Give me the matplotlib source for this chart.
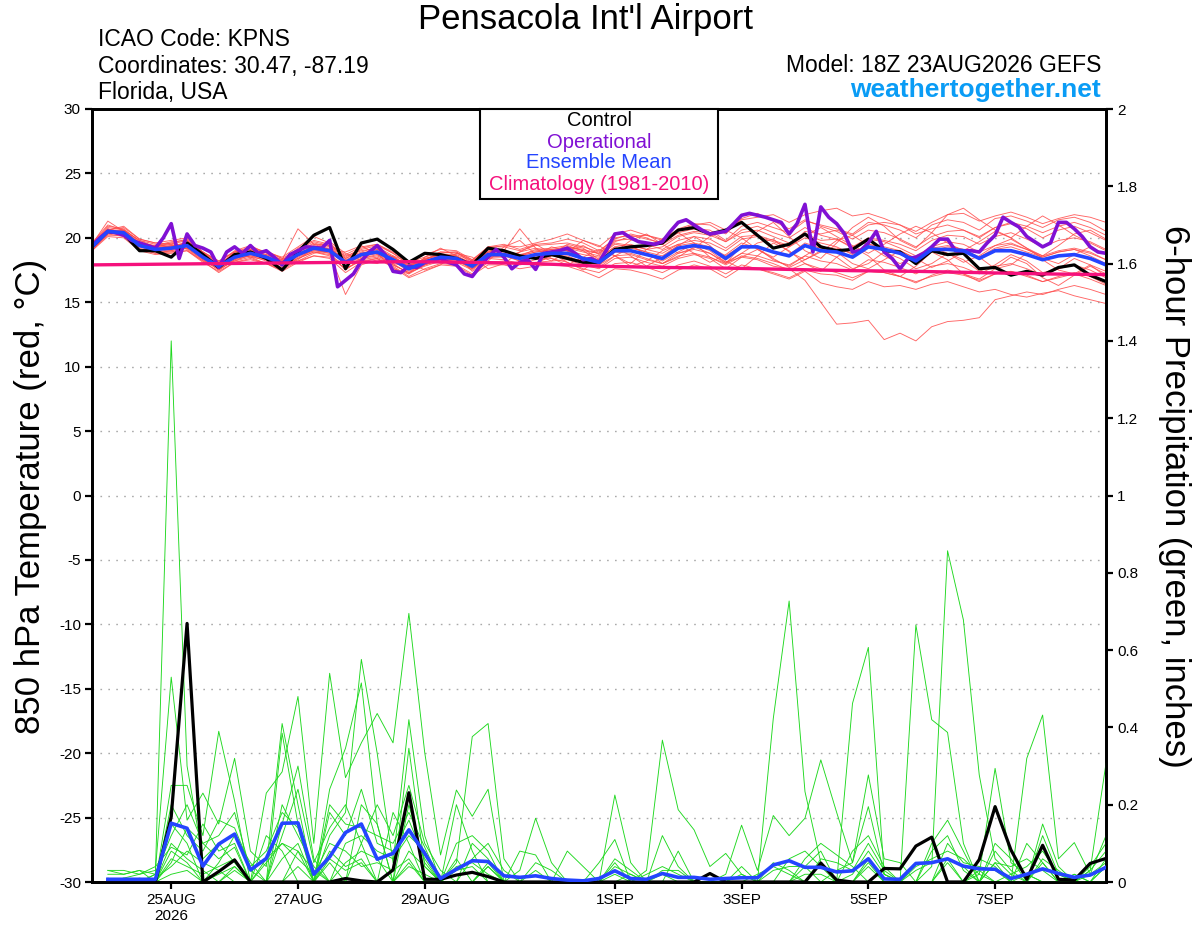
import numpy as np
import matplotlib
matplotlib.use("Agg")
import matplotlib.pyplot as plt

plt.rcParams['font.family'] = ['Liberation Sans', 'DejaVu Sans']
plt.rcParams['axes.unicode_minus'] = False

# ---------------- data ----------------
# time axis: hours since 23AUG2026 18Z
temp_hours = list(range(0, 385, 6))          # 65 six-hourly steps
op_hours = list(range(0, 385, 3))            # 129 three-hourly steps
precip_hours = list(range(6, 385, 6))        # 64 six-hourly accumulations
clim_hours = list(range(0, 385, 24))

tick_hours = [30, 78, 126, 198, 246, 294, 342]
tick_labels = ["25AUG\n2026", "27AUG", "29AUG", "1SEP", "3SEP", "5SEP", "7SEP"]

control_temp = [19.3, 20.5, 20.3, 19.0, 19.0, 18.5, 19.6, 18.7, 17.7, 18.7, 18.9, 18.4, 17.5,
                18.9, 20.2, 20.8, 17.6, 19.6, 19.9, 19.1, 18.1, 18.8, 18.7, 18.4, 17.9, 19.2,
                19.0, 18.6, 18.4, 18.7, 18.4, 18.1, 18.1, 19.1, 19.3, 19.4, 19.6, 20.6, 20.8,
                20.3, 20.6, 21.2, 20.2, 19.2, 19.5, 20.3, 19.3, 19.0, 19.1, 19.9, 19.0, 18.9,
                18.0, 19.0, 18.7, 18.8, 17.6, 17.7, 17.1, 17.4, 17.1, 17.7, 17.9, 17.1, 16.6]

mean_temp = [19.3, 20.5, 20.4, 19.4, 19.1, 19.2, 19.4, 18.5, 17.8, 18.5, 18.8, 18.5, 18.0,
             18.7, 19.2, 19.0, 18.1, 18.7, 18.9, 18.3, 17.6, 18.1, 18.5, 18.4, 17.8, 18.7,
             18.7, 18.4, 18.7, 18.8, 18.8, 18.4, 18.1, 19.0, 19.0, 18.7, 18.4, 19.2, 19.4,
             19.2, 18.4, 19.3, 19.3, 18.9, 18.6, 19.4, 19.0, 18.9, 18.5, 19.3, 19.1, 18.8,
             18.2, 19.1, 19.1, 19.0, 18.4, 19.0, 19.0, 18.7, 18.3, 18.6, 18.7, 18.4, 17.9]

operational_temp = [19.4, 20.0, 20.5, 20.4, 20.2, 19.8, 19.6, 19.4, 19.2, 20.0, 21.1, 18.4, 20.3,
                    19.4, 19.2, 18.9, 17.7, 18.9, 19.3, 18.8, 19.4, 18.8, 19.0, 18.5, 17.9, 18.7,
                    19.0, 19.3, 19.25, 19.2, 19.8, 16.2, 16.7, 17.2, 18.2, 18.9, 19.4, 18.7, 17.4,
                    17.3, 17.8, 17.7, 18.1, 18.3, 18.4, 18.1, 17.9, 17.2, 17.0, 17.8, 18.5, 19.1,
                    18.5, 17.6, 18.1, 18.3, 17.55, 18.8, 18.9, 19.0, 19.2, 18.8, 18.3, 18.4, 18.1,
                    19.1, 20.3, 20.4, 20.0, 19.7, 19.6, 19.5, 19.7, 20.5, 21.2, 21.4, 21.0, 20.6,
                    20.3, 20.4, 20.5, 21.1, 21.75, 21.9, 21.75, 21.6, 21.4, 21.2, 20.3, 21.1, 22.6,
                    18.9, 22.4, 21.6, 21.1, 20.3, 18.9, 19.0, 19.6, 20.5, 18.9, 18.4, 17.6, 18.4,
                    18.5, 18.8, 19.3, 19.9, 19.9, 19.0, 19.0, 19.0, 18.9, 19.6, 20.2, 21.6, 21.2,
                    20.85, 20.1, 19.7, 19.3, 19.6, 21.2, 21.2, 20.7, 20.1, 19.3, 18.9, 18.8]

climatology_temp = [17.9, 17.95, 18.0, 18.05, 18.1, 18.15, 18.1, 18.0, 17.8, 17.7, 17.65,
                    17.55, 17.45, 17.4, 17.3, 17.2, 17.15]

member_temps = [
    [19.5, 20.9, 20.7, 19.7, 19.3, 19.6, 19.9, 18.9, 17.9, 18.9, 19.3, 18.9, 18.2,
     19.2, 19.8, 19.5, 18.4, 19.1, 19.4, 18.8, 17.9, 18.3, 18.9, 18.9, 18.2, 19.3,
     19.3, 19.0, 19.4, 19.5, 19.6, 19.3, 18.9, 20.0, 20.2, 19.9, 19.6, 20.4, 20.7,
     20.6, 19.8, 20.9, 21.2, 20.8, 20.4, 21.3, 21.0, 20.7, 20.3, 21.2, 21.0, 20.6,
     20.0, 21.0, 21.4, 21.2, 20.6, 21.5, 21.7, 21.3, 20.8, 21.4, 21.6, 21.2, 20.5],
    [19.1, 20.2, 20.2, 19.2, 18.8, 18.9, 19.0, 18.1, 17.4, 18.1, 18.4, 18.0, 17.4,
     18.1, 18.6, 18.4, 17.3, 18.1, 18.4, 17.8, 17.0, 17.6, 18.0, 17.9, 17.2, 18.1,
     18.2, 17.9, 18.1, 18.2, 18.3, 17.9, 17.6, 18.4, 18.5, 18.1, 17.8, 18.4, 18.7,
     18.4, 17.6, 18.5, 18.3, 17.8, 17.6, 16.7, 15.0, 13.3, 13.4, 13.6, 12.1, 12.6,
     12.0, 13.1, 13.5, 13.6, 13.8, 15.2, 15.5, 15.8, 15.6, 16.0, 16.3, 16.0, 15.6],
    [19.2, 20.4, 20.3, 19.5, 19.0, 18.9, 19.2, 18.3, 17.6, 18.2, 18.5, 18.3, 17.9,
     18.4, 18.9, 18.6, 17.6, 18.3, 18.5, 17.9, 17.3, 17.8, 18.2, 18.1, 17.5, 18.4,
     18.3, 18.0, 18.3, 18.4, 18.1, 17.6, 17.3, 18.0, 18.1, 17.7, 17.3, 17.9, 18.2,
     17.8, 17.2, 17.9, 17.6, 17.2, 16.8, 17.4, 16.5, 16.2, 16.0, 16.6, 16.2, 16.3,
     16.0, 16.4, 16.6, 16.2, 15.8, 16.0, 15.6, 15.4, 15.7, 15.9, 15.5, 15.2, 14.9],
    [19.6, 21.0, 20.6, 19.8, 19.5, 19.3, 19.7, 18.7, 17.9, 18.8, 19.1, 18.6, 18.1,
     18.9, 19.6, 19.3, 18.6, 19.0, 19.2, 18.5, 17.8, 18.4, 18.7, 18.7, 18.2, 19.0,
     19.1, 18.4, 18.0, 18.6, 19.3, 19.0, 18.2, 18.9, 19.4, 18.7, 18.2, 18.9, 19.5,
     19.0, 18.1, 18.8, 19.6, 19.9, 18.9, 18.3, 18.9, 19.8, 20.2, 19.4, 18.6, 18.0,
     18.5, 19.3, 18.8, 18.1, 18.6, 19.4, 19.9, 19.2, 18.4, 18.0, 18.7, 19.3, 18.7],
    [19.4, 20.6, 20.8, 19.9, 19.6, 19.8, 20.0, 18.9, 18.2, 18.9, 19.2, 18.9, 18.5,
     19.3, 20.1, 19.6, 18.5, 19.2, 19.5, 18.9, 18.2, 18.7, 19.1, 19.0, 18.3, 19.2,
     19.4, 19.3, 19.6, 19.9, 20.3, 19.8, 19.3, 20.3, 20.6, 20.2, 19.8, 20.7, 21.1,
     21.0, 20.3, 21.5, 21.9, 21.3, 20.7, 21.4, 20.9, 20.5, 19.9, 20.6, 20.4, 19.9,
     19.3, 20.1, 20.5, 20.6, 20.0, 20.8, 21.1, 20.7, 20.0, 20.6, 20.9, 20.4, 19.8],
    [19.0, 20.3, 20.5, 19.6, 19.2, 19.4, 19.3, 18.4, 17.7, 18.4, 18.6, 18.4, 17.8,
     18.5, 19.0, 18.8, 17.5, 18.4, 18.6, 18.0, 17.2, 17.9, 18.3, 18.3, 17.6, 18.6,
     18.6, 18.2, 18.5, 18.6, 18.6, 18.1, 17.9, 18.9, 18.8, 18.4, 18.0, 18.8, 19.1,
     18.8, 18.0, 18.8, 18.6, 18.2, 17.9, 18.6, 18.2, 18.0, 17.5, 18.3, 18.1, 17.7,
     17.2, 17.8, 18.0, 17.7, 17.2, 17.8, 18.0, 17.6, 17.1, 17.6, 17.9, 17.5, 16.9],
    [19.5, 21.3, 20.5, 19.6, 19.4, 19.7, 19.8, 18.8, 18.1, 19.0, 19.4, 18.8, 18.3,
     20.7, 19.5, 19.1, 18.4, 18.9, 19.3, 18.6, 17.7, 18.3, 18.8, 18.9, 18.0, 18.8,
     19.0, 20.7, 19.2, 18.9, 19.0, 19.4, 18.7, 19.6, 19.4, 19.1, 19.3, 20.1, 20.4,
     20.2, 19.7, 20.4, 20.6, 20.1, 19.6, 20.3, 19.8, 19.9, 19.3, 20.0, 19.8, 19.5,
     19.0, 19.8, 20.2, 20.1, 19.5, 20.1, 20.4, 19.9, 19.3, 19.8, 20.0, 19.7, 19.1],
    [19.3, 20.5, 20.3, 19.3, 18.9, 19.1, 19.5, 18.6, 17.8, 18.6, 18.7, 18.3, 17.9,
     18.6, 19.1, 18.8, 15.6, 17.9, 18.3, 17.9, 17.3, 17.9, 18.3, 18.2, 17.6, 18.5,
     18.5, 18.9, 19.2, 18.4, 17.9, 18.5, 19.1, 18.6, 17.8, 18.2, 19.0, 19.5, 18.8,
     18.1, 18.7, 19.6, 19.2, 18.3, 17.8, 18.6, 19.4, 18.9, 18.0, 17.6, 18.3, 19.0,
     18.4, 17.7, 18.2, 18.9, 18.5, 17.6, 17.9, 18.8, 18.3, 17.5, 17.2, 17.9, 17.4],
    [19.2, 20.7, 20.2, 19.4, 19.0, 19.2, 19.3, 18.5, 17.6, 18.4, 18.8, 18.6, 18.1,
     18.8, 19.3, 19.2, 18.3, 18.8, 19.0, 18.4, 17.6, 18.1, 18.5, 18.5, 17.9, 18.8,
     18.8, 18.6, 18.9, 19.0, 19.2, 18.9, 18.6, 19.5, 19.3, 18.9, 18.6, 19.4, 19.6,
     19.3, 18.6, 19.4, 19.2, 18.9, 18.7, 19.6, 19.2, 19.2, 18.8, 19.5, 19.3, 19.0,
     18.4, 19.2, 19.4, 19.1, 18.5, 19.1, 19.3, 18.9, 18.5, 18.9, 19.1, 18.8, 18.3],
    [19.4, 20.8, 20.6, 19.5, 19.1, 19.3, 19.6, 18.7, 18.0, 18.7, 19.0, 18.7, 18.2,
     18.9, 19.4, 19.1, 18.2, 18.8, 19.1, 18.5, 17.9, 18.2, 18.6, 18.6, 18.0, 18.9,
     18.9, 18.6, 19.1, 19.2, 19.4, 19.0, 18.8, 19.8, 19.9, 19.5, 19.1, 19.8, 20.1,
     19.9, 19.2, 20.1, 20.2, 19.8, 19.4, 20.5, 20.3, 20.6, 20.2, 21.0, 21.2, 21.0,
     20.5, 21.2, 21.8, 21.9, 21.3, 21.7, 22.0, 21.6, 21.1, 21.5, 21.8, 21.6, 21.2],
    [19.1, 20.3, 20.1, 19.1, 18.8, 19.0, 19.2, 18.3, 17.5, 18.3, 18.6, 18.2, 17.7,
     18.4, 18.9, 18.7, 17.8, 18.4, 18.7, 18.2, 17.4, 17.9, 18.4, 18.3, 17.6, 18.5,
     18.6, 18.4, 18.7, 18.7, 18.5, 18.0, 17.7, 18.6, 18.7, 18.3, 18.0, 18.6, 18.8,
     18.5, 17.9, 18.6, 18.4, 18.0, 17.5, 18.0, 17.6, 17.3, 16.9, 17.4, 17.3, 17.0,
     16.6, 17.0, 17.3, 17.1, 16.7, 17.2, 17.4, 17.0, 16.6, 16.9, 17.2, 16.8, 16.3],
    [19.6, 20.6, 20.9, 19.9, 19.6, 19.5, 19.8, 18.9, 18.2, 18.9, 19.1, 18.9, 18.4,
     19.1, 19.7, 19.4, 18.7, 19.3, 19.5, 18.8, 18.1, 18.5, 18.9, 18.8, 18.3, 19.3,
     19.5, 19.1, 19.5, 19.6, 19.9, 19.6, 19.0, 19.9, 20.3, 20.0, 19.5, 20.2, 20.5,
     20.4, 19.7, 20.6, 20.9, 20.4, 20.0, 20.8, 20.2, 19.9, 19.2, 19.9, 19.7, 19.2,
     18.6, 19.3, 19.7, 19.5, 18.9, 19.4, 19.6, 19.1, 18.5, 18.9, 19.1, 18.6, 18.0],
    [19.3, 20.4, 20.4, 19.5, 19.2, 19.1, 19.4, 18.4, 17.7, 18.5, 18.8, 18.4, 17.9,
     18.6, 19.0, 18.9, 18.0, 18.6, 18.8, 18.2, 17.5, 18.0, 18.4, 18.3, 17.7, 18.6,
     18.7, 18.2, 18.6, 19.3, 19.0, 18.3, 17.9, 18.6, 19.2, 18.9, 18.0, 18.5, 19.3,
     18.8, 18.1, 18.5, 19.1, 18.4, 17.7, 18.3, 19.0, 18.5, 17.6, 18.0, 18.9, 18.4,
     17.6, 18.0, 18.8, 18.3, 17.4, 17.9, 18.7, 18.2, 17.3, 17.6, 18.4, 17.9, 17.0],
    [19.4, 20.5, 20.6, 19.6, 19.2, 19.4, 19.5, 18.6, 17.9, 18.6, 18.9, 18.5, 18.0,
     18.7, 19.2, 19.0, 18.1, 18.7, 18.9, 18.3, 17.6, 18.1, 18.6, 18.4, 17.8, 18.7,
     18.8, 18.6, 18.9, 19.1, 19.3, 19.1, 18.8, 19.7, 20.1, 20.2, 19.9, 20.6, 21.0,
     21.2, 20.6, 21.4, 21.6, 21.8, 21.2, 21.8, 22.1, 22.3, 21.7, 21.9, 21.5, 21.0,
     20.3, 20.7, 21.0, 20.6, 20.1, 20.8, 21.2, 20.9, 20.4, 20.9, 21.2, 20.8, 20.2],
    [19.0, 20.1, 20.0, 19.0, 18.7, 18.8, 19.0, 18.2, 17.3, 18.1, 18.3, 18.0, 17.5,
     18.2, 18.6, 18.5, 17.6, 18.2, 18.4, 17.7, 16.9, 17.4, 17.9, 17.8, 17.1, 17.9,
     17.9, 17.6, 17.8, 17.9, 17.8, 17.4, 16.9, 17.6, 17.5, 17.2, 16.8, 17.5, 17.9,
     17.6, 16.9, 17.7, 17.6, 17.3, 16.9, 17.5, 17.2, 17.1, 16.7, 17.4, 17.3, 17.0,
     16.5, 17.1, 17.5, 17.2, 16.6, 17.2, 17.4, 17.1, 16.6, 17.0, 17.3, 17.0, 16.4],
    [19.5, 20.7, 20.4, 19.6, 19.3, 19.3, 19.6, 18.6, 17.8, 18.6, 18.9, 18.6, 18.0,
     18.8, 19.3, 19.1, 18.2, 18.8, 19.1, 18.5, 17.8, 18.3, 18.7, 18.6, 18.0, 18.9,
     19.0, 18.7, 19.0, 19.1, 19.0, 18.7, 18.5, 19.3, 19.5, 19.1, 18.8, 19.5, 19.8,
     19.6, 19.0, 19.9, 20.1, 19.7, 19.3, 20.0, 19.6, 19.3, 18.7, 19.5, 19.2, 18.8,
     18.2, 19.0, 19.3, 19.1, 18.5, 19.2, 19.5, 19.1, 18.6, 19.0, 19.2, 18.9, 18.3],
    [19.3, 20.6, 20.5, 19.4, 19.2, 19.0, 19.5, 18.4, 17.5, 18.3, 19.0, 18.7, 18.3,
     19.0, 19.5, 19.4, 18.0, 18.5, 18.8, 17.6, 17.2, 18.5, 19.2, 18.6, 17.4, 18.2,
     19.3, 19.8, 18.7, 18.2, 18.9, 19.8, 19.4, 18.6, 18.0, 19.1, 19.9, 20.4, 19.6,
     18.5, 18.0, 19.4, 20.5, 21.2, 20.1, 19.0, 18.4, 19.6, 20.8, 21.6, 20.9, 19.8,
     19.2, 20.4, 21.8, 22.3, 21.4, 20.6, 20.0, 20.9, 21.7, 21.0, 20.2, 19.6, 19.0],
    [19.2, 20.4, 20.6, 19.8, 19.3, 19.5, 19.1, 18.2, 17.9, 18.8, 18.5, 18.0, 17.6,
     18.3, 19.2, 19.7, 18.8, 18.2, 18.0, 18.6, 18.1, 17.5, 17.9, 18.8, 18.5, 17.6,
     18.0, 18.9, 19.5, 18.8, 18.1, 17.5, 18.4, 19.3, 18.6, 17.8, 18.5, 19.4, 20.1,
     19.4, 18.2, 17.6, 18.6, 19.6, 19.0, 18.0, 17.4, 18.5, 19.3, 18.6, 17.5, 17.0,
     17.8, 18.9, 18.3, 17.2, 16.8, 17.6, 18.5, 18.0, 16.9, 16.3, 17.1, 17.8, 17.2],
    [19.4, 20.5, 20.2, 19.5, 19.4, 19.6, 19.2, 18.9, 18.1, 18.2, 18.7, 19.0, 18.4,
     18.2, 18.8, 19.0, 18.9, 19.4, 18.7, 18.0, 17.8, 18.4, 18.6, 18.0, 18.1, 18.9,
     19.1, 18.4, 18.0, 18.7, 19.5, 19.2, 18.3, 18.9, 19.8, 20.3, 19.5, 18.8, 19.2,
     20.1, 20.6, 20.0, 19.1, 18.5, 19.3, 20.2, 20.8, 20.1, 19.4, 18.8, 19.5, 20.3,
     20.9, 20.4, 19.6, 19.0, 19.7, 20.5, 20.0, 19.2, 18.6, 19.4, 20.3, 20.6, 19.9],
]

control_precip = [0, 0, 0, 0, 0.169, 0.669, 0, 0.027, 0.057, 0, 0, 0, 0, 0, 0, 0.009, 0.003,
                  0, 0.031, 0.231, 0.007, 0.007, 0.018, 0.025, 0.014, 0, 0, 0, 0, 0, 0, 0,
                  0, 0, 0, 0, 0, 0, 0.022, 0, 0, 0, 0, 0, 0, 0.049, 0.005, 0, 0, 0.035, 0.034,
                  0.093, 0.116, 0, 0, 0.058, 0.195, 0.083, 0.007, 0.095, 0.007, 0.005, 0.048,
                  0.061]

mean_precip = [0.007, 0.007, 0.007, 0.007, 0.152, 0.139, 0.041, 0.098, 0.124, 0.031, 0.061,
               0.152, 0.153, 0.020, 0.065, 0.128, 0.150, 0.059, 0.074, 0.135, 0.074, 0.009,
               0.033, 0.055, 0.053, 0.016, 0.012, 0.016, 0.009, 0.005, 0.003, 0.009, 0.029,
               0.009, 0.007, 0.022, 0.012, 0.012, 0.007, 0.009, 0.011, 0.011, 0.044, 0.055,
               0.038, 0.038, 0.026, 0.029, 0.060, 0.008, 0.007, 0.048, 0.050, 0.060, 0.041,
               0.034, 0.033, 0.009, 0.020, 0.034, 0.022, 0.012, 0.018, 0.038]

# ensemble member precip: {6-hour step index: inches}, zero elsewhere
member_precips = [
    {3: 0.02, 4: 1.40, 5: 0.30, 6: 0.06, 7: 0.10, 8: 0.05, 11: 0.15, 12: 0.30, 13: 0.06,
     16: 0.20, 17: 0.15, 19: 0.20, 20: 0.05, 24: 0.05, 32: 0.05, 35: 0.12, 36: 0.04,
     42: 0.423, 43: 0.727, 44: 0.234, 45: 0.05, 48: 0.05, 53: 0.06, 56: 0.05, 59: 0.05, 63: 0.04},
    {0: 0.03, 1: 0.03, 2: 0.02, 3: 0.03, 4: 0.53, 5: 0.16, 6: 0.23, 7: 0.15, 8: 0.32, 9: 0.08,
     10: 0.04, 11: 0.41, 12: 0.20, 14: 0.12, 15: 0.18, 16: 0.576, 17: 0.333, 18: 0.05, 19: 0.42,
     20: 0.12, 22: 0.05, 23: 0.376, 24: 0.41, 25: 0.06, 32: 0.02, 40: 0.02, 47: 0.462,
     48: 0.607, 49: 0.02, 55: 0.03, 61: 0.02},
    {0: 0.02, 1: 0.02, 2: 0.03, 4: 0.25, 5: 0.25, 6: 0.12, 7: 0.39, 8: 0.21, 10: 0.23,
     11: 0.285, 12: 0.48, 13: 0.10, 14: 0.54, 15: 0.27, 16: 0.36, 17: 0.436, 18: 0.36,
     19: 0.695, 20: 0.335, 21: 0.07, 22: 0.238, 23: 0.17, 24: 0.24, 26: 0.03, 27: 0.165,
     28: 0.05, 33: 0.02, 44: 0.02, 45: 0.02, 51: 0.665, 52: 0.42, 53: 0.387, 54: 0.10, 58: 0.02},
    {1: 0.01, 3: 0.02, 4: 0.15, 5: 0.10, 7: 0.05, 8: 0.12, 9: 0.05, 11: 0.385, 12: 0.15,
     14: 0.24, 15: 0.346, 16: 0.515, 17: 0.15, 19: 0.346, 20: 0.04, 22: 0.20, 23: 0.08,
     26: 0.08, 27: 0.07, 29: 0.08, 30: 0.04, 32: 0.225, 33: 0.05, 35: 0.03, 36: 0.03, 52: 0.04,
     53: 0.857, 54: 0.678, 55: 0.277, 56: 0.06, 57: 0.02, 62: 0.03, 63: 0.307},
    {4: 0.08, 5: 0.05, 8: 0.03, 10: 0.12, 11: 0.08, 14: 0.05, 16: 0.10, 18: 0.18, 19: 0.10,
     24: 0.04, 31: 0.05, 32: 0.11, 34: 0.03, 35: 0.367, 36: 0.187, 37: 0.135, 38: 0.04,
     39: 0.074, 40: 0.02, 46: 0.03, 47: 0.05, 48: 0.277, 49: 0.06, 50: 0.05, 55: 0.02,
     56: 0.294, 57: 0.05, 58: 0.02, 61: 0.02},
    {0: 0.01, 2: 0.01, 4: 0.06, 5: 0.04, 6: 0.02, 7: 0.04, 8: 0.06, 12: 0.08, 13: 0.03,
     15: 0.05, 16: 0.08, 17: 0.06, 19: 0.08, 20: 0.04, 36: 0.08, 39: 0.02, 40: 0.147, 41: 0.03,
     42: 0.172, 43: 0.12, 44: 0.165, 45: 0.316, 46: 0.18, 47: 0.05, 48: 0.195, 49: 0.02,
     58: 0.32, 59: 0.432, 60: 0.06, 61: 0.102, 62: 0.02, 63: 0.05},
    {4: 0.10, 5: 0.06, 6: 0.03, 8: 0.04, 11: 0.06, 12: 0.10, 14: 0.08, 15: 0.04, 16: 0.06,
     19: 0.05, 22: 0.03, 23: 0.04, 27: 0.03, 35: 0.02, 42: 0.03, 43: 0.04, 44: 0.04, 48: 0.04,
     51: 0.03, 52: 0.05, 53: 0.06, 54: 0.04, 56: 0.08, 57: 0.03, 59: 0.12, 60: 0.02, 63: 0.06},
    {3: 0.01, 4: 0.04, 5: 0.08, 6: 0.05, 7: 0.03, 10: 0.05, 11: 0.10, 12: 0.06, 13: 0.02,
     14: 0.10, 15: 0.08, 16: 0.04, 17: 0.05, 18: 0.03, 19: 0.06, 22: 0.04, 23: 0.05, 24: 0.02,
     32: 0.04, 33: 0.02, 42: 0.05, 43: 0.03, 45: 0.06, 46: 0.05, 47: 0.03, 48: 0.10, 49: 0.03,
     53: 0.10, 54: 0.05, 55: 0.04, 56: 0.03, 59: 0.06, 60: 0.03, 62: 0.04, 63: 0.10},
    {0: 0.03, 1: 0.02, 2: 0.03, 3: 0.02, 4: 0.12, 5: 0.20, 6: 0.10, 7: 0.06, 8: 0.09,
     11: 0.20, 12: 0.12, 13: 0.04, 15: 0.10, 16: 0.12, 17: 0.08, 18: 0.06, 19: 0.12, 20: 0.08,
     23: 0.06, 24: 0.10, 25: 0.03, 27: 0.05, 28: 0.03, 44: 0.06, 45: 0.10, 46: 0.07, 47: 0.04,
     52: 0.08, 53: 0.12, 54: 0.03, 56: 0.05, 57: 0.04, 58: 0.06, 59: 0.03},
    {4: 0.02, 5: 0.03, 7: 0.02, 8: 0.04, 12: 0.04, 14: 0.06, 15: 0.03, 16: 0.05, 19: 0.04,
     20: 0.02, 34: 0.02, 35: 0.04, 36: 0.02, 41: 0.02, 42: 0.04, 43: 0.02, 47: 0.02, 48: 0.08,
     49: 0.02, 51: 0.04, 52: 0.06, 53: 0.08, 54: 0.06, 55: 0.02, 57: 0.02, 58: 0.04, 59: 0.08,
     60: 0.02, 62: 0.03, 63: 0.08},
    {4: 0.20, 5: 0.12, 6: 0.08, 7: 0.16, 8: 0.14, 9: 0.04, 10: 0.08, 11: 0.18, 12: 0.14,
     14: 0.18, 15: 0.12, 16: 0.24, 17: 0.10, 18: 0.08, 19: 0.16, 20: 0.06, 22: 0.10, 23: 0.12,
     24: 0.08, 44: 0.04, 45: 0.08, 53: 0.05, 56: 0.10, 57: 0.06, 63: 0.04},
    {4: 0.05, 5: 0.14, 6: 0.10, 7: 0.12, 8: 0.18, 9: 0.03, 11: 0.12, 12: 0.24, 13: 0.05,
     14: 0.14, 15: 0.20, 16: 0.10, 17: 0.20, 18: 0.12, 19: 0.25, 20: 0.10, 21: 0.03, 23: 0.10,
     24: 0.06, 32: 0.06, 33: 0.03, 40: 0.04, 47: 0.08, 48: 0.12, 49: 0.04, 55: 0.06, 56: 0.04,
     59: 0.15, 60: 0.04},
    {1: 0.01, 2: 0.02, 3: 0.04, 4: 0.09, 5: 0.07, 6: 0.15, 7: 0.08, 8: 0.10, 10: 0.06,
     11: 0.10, 12: 0.08, 14: 0.20, 15: 0.15, 16: 0.14, 17: 0.12, 18: 0.10, 19: 0.18, 20: 0.09,
     22: 0.06, 24: 0.04, 43: 0.06, 44: 0.08, 45: 0.04, 48: 0.06, 52: 0.10, 53: 0.16, 54: 0.08,
     58: 0.10, 59: 0.05, 62: 0.02, 63: 0.12},
]

temp_ticks = [-30, -25, -20, -15, -10, -5, 0, 5, 10, 15, 20, 25, 30]
precip_ticks = [0, 0.2, 0.4, 0.6, 0.8, 1.0, 1.2, 1.4, 1.6, 1.8, 2.0]
precip_tick_labels = ["0", "0.2", "0.4", "0.6", "0.8", "1", "1.2", "1.4", "1.6", "1.8", "2"]

# ---------------- styles ----------------
RED = "#ff4a4a"
GREEN = "#1fd81f"
PURPLE = "#8010d4"
BLUE = "#2444ff"
PINK = "#f5107c"

fig = plt.figure(figsize=(12, 9.27), dpi=100)
ax = fig.add_axes([92/1200, 1 - 882/927, (1106-92)/1200, (882-109)/927])
ax2 = ax.twinx()

# temperature ensemble members
for m in member_temps:
    ax.plot(temp_hours, m, color=RED, lw=0.65, alpha=0.85, zorder=2)
ax.plot(temp_hours, control_temp, color="black", lw=2.3, zorder=4)
ax.plot(op_hours, operational_temp, color=PURPLE, lw=2.6, zorder=5)
ax.plot(temp_hours, mean_temp, color=BLUE, lw=2.6, zorder=6)
ax.plot(clim_hours, climatology_temp, color=PINK, lw=2.4, zorder=7)

# precipitation
n_steps = len(precip_hours)
for d in member_precips:
    vals = np.zeros(n_steps)
    for k, v in d.items():
        vals[k] = v
    ax2.plot(precip_hours, vals, color=GREEN, lw=0.65, zorder=2)
ax2.plot(precip_hours, control_precip, color="black", lw=2.3, zorder=4)
ax2.plot(precip_hours, mean_precip, color=BLUE, lw=2.6, zorder=5)

# axes
ax.set_xlim(0, 384)
ax.set_ylim(-30, 30)
ax2.set_ylim(0, 2)
ax.set_yticks(temp_ticks)
ax.set_yticklabels([str(t) for t in temp_ticks])
ax2.set_yticks(precip_ticks)
ax2.set_yticklabels(precip_tick_labels)
ax.set_xticks(tick_hours)
ax.set_xticklabels(tick_labels)

for t in temp_ticks[1:-1]:
    ax.axhline(t, color="#aaaaaa", lw=1.0, linestyle=(0, (1.2, 4.5)), zorder=1)

for a in (ax, ax2):
    for s in a.spines.values():
        s.set_linewidth(2.0)
ax.tick_params(axis="both", direction="out", length=5, width=1.6, labelsize=11, pad=3)
ax2.tick_params(axis="y", direction="out", length=5, width=1.6, labelsize=11, pad=3)
for lbl in ax.get_xticklabels():
    lbl.set_linespacing(1.2)

# axis labels
fig.text(31/1200, 1 - 496/927, "850 hPa Temperature (red, \u00b0C)", rotation=90,
         ha="center", va="center", fontsize=25)
fig.text(1174/1200, 1 - 496/927, "6-hour Precipitation (green, inches)", rotation=270,
         ha="center", va="center", fontsize=25)

# header
fig.text(585/1200, 1 - 19/927, "Pensacola Int'l Airport", ha="center", va="center", fontsize=25)
fig.text(98/1200, 1 - 40/927, "ICAO Code: KPNS", ha="left", va="center", fontsize=16.5)
fig.text(98/1200, 1 - 66/927, "Coordinates: 30.47, -87.19", ha="left", va="center", fontsize=16.5)
fig.text(98/1200, 1 - 93/927, "Florida, USA", ha="left", va="center", fontsize=16.5)
fig.text(1101/1200, 1 - 65/927, "Model: 18Z 23AUG2026 GEFS", ha="right", va="center", fontsize=16.5)
fig.text(1101/1200, 1 - 90/927, "weathertogether.net", ha="right", va="center", fontsize=19,
         fontweight="bold", color="#0a9cf5")

# legend box
box = plt.Rectangle((480/1200, 1 - 199/927), 238/1200, 90/927, transform=fig.transFigure,
                    facecolor="white", edgecolor="black", lw=1.5, zorder=10)
fig.add_artist(box)
legend_items = [("Control", "black", 121), ("Operational", PURPLE, 142),
                ("Ensemble Mean", BLUE, 163), ("Climatology (1981-2010)", PINK, 185)]
for txt, col, yy in legend_items:
    fig.text(599/1200, 1 - yy/927, txt, ha="center", va="center", fontsize=14.5, color=col,
             zorder=11)

fig.savefig("out.png", dpi=100)
